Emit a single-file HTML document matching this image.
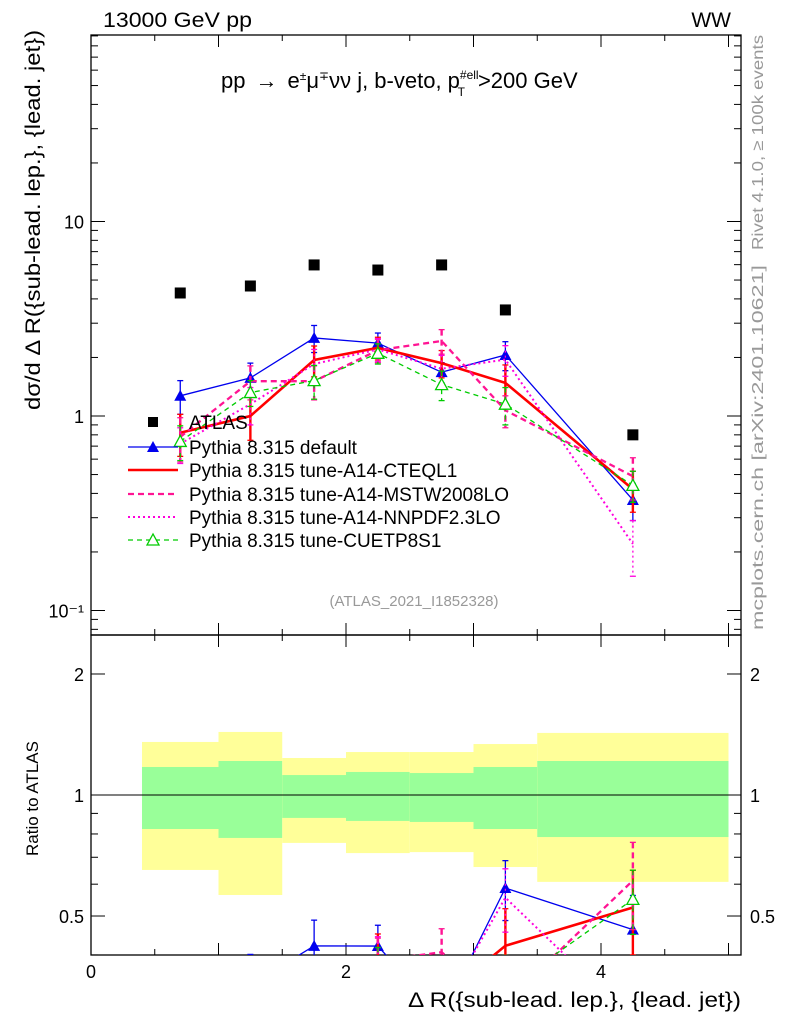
<!DOCTYPE html>
<html><head><meta charset="utf-8"><style>
html,body{margin:0;padding:0;background:#fff;width:786px;height:1024px;overflow:hidden}
svg{display:block;font-family:"Liberation Sans",sans-serif}
</style></head><body>
<svg id="c" width="786" height="1024" viewBox="0 0 786 1024" xmlns="http://www.w3.org/2000/svg">
<defs>
<clipPath id="cm"><rect x="91" y="35" width="650" height="600"/></clipPath>
<clipPath id="cr"><rect x="91" y="635" width="650" height="320"/></clipPath>
</defs>
<g id="bands" clip-path="url(#cr)"></g>
<g id="axes"></g>
<g id="mainmarks" clip-path="url(#cm)"></g>
<g id="ratiomarks" clip-path="url(#cr)"></g>
<text x="103" y="27" font-size="21" textLength="149" lengthAdjust="spacingAndGlyphs">13000 GeV pp</text>
<text x="731" y="27" font-size="21" text-anchor="end">WW</text>
<text x="221" y="88" font-size="22">pp<tspan dx="10">→</tspan><tspan dx="10">e</tspan><tspan font-size="12" dy="-8">±</tspan><tspan dy="8">μ</tspan><tspan font-size="12" dy="-8">∓</tspan><tspan dy="8">νν j, b-veto, p</tspan><tspan font-size="12" dy="-9">#ell</tspan><tspan font-size="12" dx="-21" dy="17">T</tspan><tspan dx="13" dy="-8">&gt;200 GeV</tspan></text>
<text x="414" y="606" font-size="15" fill="#999" text-anchor="middle">(ATLAS_2021_I1852328)</text>
<text transform="translate(763,250) rotate(-90)" font-size="16" fill="#999" textLength="215" lengthAdjust="spacingAndGlyphs">Rivet 4.1.0, ≥ 100k events</text>
<text transform="translate(763,630) rotate(-90)" font-size="16" fill="#999" textLength="365" lengthAdjust="spacingAndGlyphs">mcplots.cern.ch [arXiv:2401.10621]</text>
<text transform="translate(40,410) rotate(-90)" font-size="21" textLength="380" lengthAdjust="spacingAndGlyphs">dσ/d Δ R({sub-lead. lep.}, {lead. jet})</text>
<text transform="translate(38,856) rotate(-90)" font-size="17">Ratio to ATLAS</text>
<text x="408" y="1007" font-size="21" textLength="333" lengthAdjust="spacingAndGlyphs">Δ R({sub-lead. lep.}, {lead. jet})</text>
<g id="legend"></g>
</svg>
<script>
const binLo=[0.4,1.0,1.5,2.0,2.5,3.0,3.5];
const binHi=[1.0,1.5,2.0,2.5,3.0,3.5,5.0];
const xCenters=[0.7,1.25,1.75,2.25,2.75,3.25,4.25];
const atlas=[4.29,4.66,5.98,5.63,5.98,3.51,0.80];
const bandStatUp=[1.174,1.215,1.121,1.141,1.134,1.174,1.215];
const bandStatDn=[0.823,0.782,0.877,0.862,0.857,0.823,0.786];
const bandTotUp=[1.355,1.435,1.236,1.279,1.279,1.339,1.427];
const bandTotDn=[0.651,0.564,0.760,0.717,0.721,0.662,0.608];
const sDefault=[1.27,1.57,2.52,2.37,1.68,2.06,0.37];
const eDefault=[0.25,0.3,0.4,0.3,0.2,0.35,0.08];
const sCTEQ=[0.82,1.0,1.94,2.24,1.87,1.48,0.42];
const eCTEQ=[0.2,0.25,0.35,0.3,0.3,0.35,0.1];
const sMSTW=[0.78,1.51,1.51,2.18,2.43,1.07,0.49];
const eMSTW=[0.2,0.3,0.3,0.3,0.35,0.2,0.12];
const sNNPDF=[0.72,1.15,1.85,2.2,1.75,1.95,0.22];
const eNNPDF=[0.15,0.25,0.35,0.3,0.3,0.35,0.07];
const sCUET=[0.74,1.32,1.52,2.1,1.45,1.15,0.44];
const eCUET=[0.15,0.2,0.3,0.25,0.25,0.25,0.08];
const mainTicks=[0.1,1,10];
const mainTickLabels=["10\u207B\u00B9","1","10"];
const ratioTicks=[0.5,1,2];
const ratioTickLabels=["0.5","1","2"];
const xTicks=[0,2,4];
const xTickLabels=["0","2","4"];

const NS="http://www.w3.org/2000/svg";
const X=v=>91+v*127.5;
const Y=v=>416-Math.log10(v)*194.5;
const R=v=>795-Math.log10(v)*402;
function mk(p,t,a){const e=document.createElementNS(NS,t);for(const k in a)e.setAttribute(k,a[k]);p.appendChild(e);return e;}
const axes=document.getElementById('axes'),bands=document.getElementById('bands');
const mm=document.getElementById('mainmarks'),rm=document.getElementById('ratiomarks'),lg=document.getElementById('legend');

for(let i=0;i<binLo.length;i++){
 let r=mk(bands,'rect',{x:X(binLo[i]),y:R(bandTotUp[i]),width:X(binHi[i])-X(binLo[i]),height:R(bandTotDn[i])-R(bandTotUp[i]),fill:'#ffff99'});
 
 
 let g=mk(bands,'rect',{x:X(binLo[i]),y:R(bandStatUp[i]),width:X(binHi[i])-X(binLo[i]),height:R(bandStatDn[i])-R(bandStatUp[i]),fill:'#99ff99'});
 
 
}
mk(axes,'rect',{x:91,y:35,width:650,height:600,fill:'none',stroke:'#000','stroke-width':1.3});
mk(axes,'rect',{x:91,y:635,width:650,height:320,fill:'none',stroke:'#000','stroke-width':1.3});
mk(axes,'line',{x1:91,x2:741,y1:R(1),y2:R(1),stroke:'#000','stroke-width':1});
for(let v=0;v<=5.1;v+=0.5){const big=Math.abs(v-Math.round(v))<1e-6;const L=big?12:6;
 for(const [yb,yt] of [[635,35],[955,635]]){mk(axes,'line',{x1:X(v),x2:X(v),y1:yb,y2:yb-L,stroke:'#000'});mk(axes,'line',{x1:X(v),x2:X(v),y1:yt,y2:yt+L,stroke:'#000'});}}
xTicks.forEach((v,i)=>{const t=mk(axes,'text',{x:X(v),y:978,'font-size':18,'text-anchor':'middle'});t.textContent=xTickLabels[i];
 
 });
for(let d=-2;d<=2;d++)for(let m=1;m<10;m++){const v=m*Math.pow(10,d);const y=Y(v);if(y<35||y>635)continue;const L=m==1?14:7;
 mk(axes,'line',{x1:91,x2:91+L,y1:y,y2:y,stroke:'#000'});mk(axes,'line',{x1:741,x2:741-L,y1:y,y2:y,stroke:'#000'});}
mainTicks.forEach((v,i)=>{const t=mk(axes,'text',{x:84,y:Y(v)+7,'font-size':18,'text-anchor':'end'});t.textContent=mainTickLabels[i];
 
 });
[0.4,0.5,0.6,0.7,0.8,0.9,1,2].forEach(v=>{const L=(v==0.5||v==1||v==2)?14:7;const y=R(v);
 mk(axes,'line',{x1:91,x2:91+L,y1:y,y2:y,stroke:'#000'});mk(axes,'line',{x1:741,x2:741-L,y1:y,y2:y,stroke:'#000'});});
ratioTicks.forEach((v,i)=>{for(const [x,a] of [[84,'end'],[750,'start']]){const t=mk(axes,'text',{x:x,y:R(v)+7,'font-size':18,'text-anchor':a});t.textContent=ratioTickLabels[i];
 
 }});

atlas.forEach((v,i)=>{const r=mk(mm,'rect',{x:X(xCenters[i])-5.5,y:Y(v)-5.5,width:11,height:11,fill:'#000'});
 
 });

const series=[
 {n:'default',v:sDefault,e:eDefault,c:'#0000ee',w:1.3,d:'',m:'tri'},
 {n:'cteql1',v:sCTEQ,e:eCTEQ,c:'#ff0000',w:2.6,d:'',m:''},
 {n:'mstw2008lo',v:sMSTW,e:eMSTW,c:'#ff1493',w:2.3,d:'6,4',m:''},
 {n:'nnpdf23lo',v:sNNPDF,e:eNNPDF,c:'#ff00dd',w:2,d:'2,3',m:''},
 {n:'cuetp8s1',v:sCUET,e:eCUET,c:'#00cc00',w:1.3,d:'5,4',m:'otri'}
];
function marker(p,m,x,y,c){
 if(m=='tri'){const t=mk(p,'polygon',{points:`${x},${y-6} ${x-6},${y+5} ${x+6},${y+5}`,fill:c});}
 if(m=='otri'){const t=mk(p,'polygon',{points:`${x},${y-6} ${x-6},${y+5} ${x+6},${y+5}`,fill:'#fff',stroke:c,'stroke-width':1.3});}
}
function draw(p,s,fy,vals,errs){
 const pts=vals.map((v,i)=>X(xCenters[i])+','+fy(v)).join(' ');
 const pl=mk(p,'polyline',{points:pts,fill:'none',stroke:s.c,'stroke-width':s.w,'stroke-dasharray':s.d});
 
 
 vals.forEach((v,i)=>{const x=X(xCenters[i]);
  const eb=mk(p,'line',{x1:x,x2:x,y1:fy(v+errs[i]),y2:fy(Math.max(v-errs[i],1e-3)),stroke:s.c,'stroke-width':s.w>2?2.4:1.3,'stroke-dasharray':s.d});
  
  
  mk(p,'line',{x1:x-3,x2:x+3,y1:fy(v+errs[i]),y2:fy(v+errs[i]),stroke:s.c,'stroke-width':1.3});
  mk(p,'line',{x1:x-3,x2:x+3,y1:fy(Math.max(v-errs[i],1e-3)),y2:fy(Math.max(v-errs[i],1e-3)),stroke:s.c,'stroke-width':1.3});
  marker(p,s.m,x,fy(v),s.c);});
}
series.forEach(s=>{
 draw(mm,s,Y,s.v,s.e);
 draw(rm,s,R,s.v.map((v,i)=>v/atlas[i]),s.e.map((e,i)=>e/atlas[i]));
});
const ly=[422,447,470,494,517,540];
const names=['ATLAS','Pythia 8.315 default','Pythia 8.315 tune-A14-CTEQL1','Pythia 8.315 tune-A14-MSTW2008LO','Pythia 8.315 tune-A14-NNPDF2.3LO','Pythia 8.315 tune-CUETP8S1'];
names.forEach((n,i)=>{const y=ly[i];
 const t=mk(lg,'text',{x:189,y:y+7,'font-size':19});t.textContent=n;
 
 
 if(i==0){mk(lg,'rect',{x:148,y:y-5,width:10,height:10,fill:'#000'});return;}
 const s=series[i-1];
 mk(lg,'line',{x1:128,x2:178,y1:y,y2:y,stroke:s.c,'stroke-width':s.w,'stroke-dasharray':s.d});
 marker(lg,s.m,153,y,s.c);
});
</script>
</body></html>
